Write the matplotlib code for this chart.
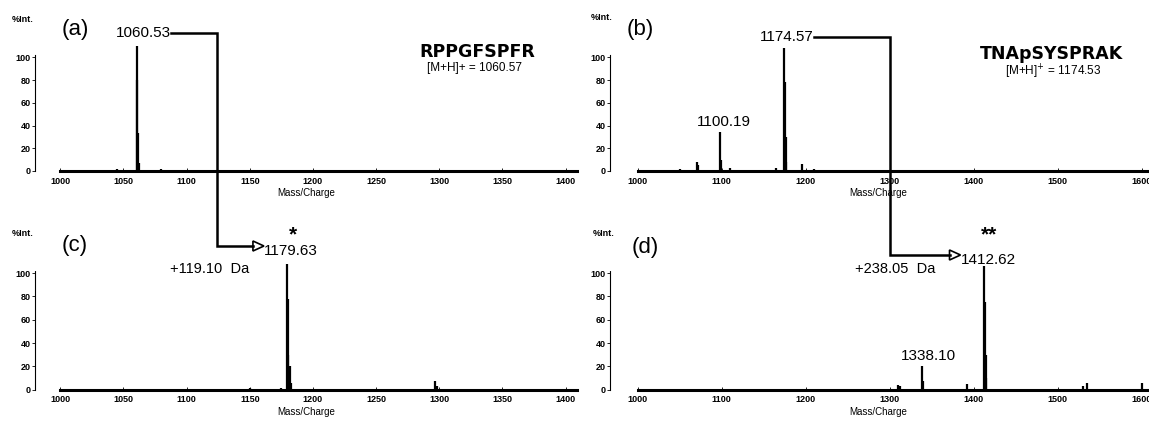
import matplotlib
matplotlib.use('Agg')
import matplotlib.pyplot as plt
from matplotlib.lines import Line2D
from matplotlib.patches import Polygon

plt.rcParams['font.family'] = ['Liberation Sans', 'DejaVu Sans']

W, H = 1149, 421

# --- spectra (m/z, % intensity) ---
a_mz = [1045.0, 1060.5, 1060.9, 1061.5, 1062.5, 1080.0]
a_int = [2, 110, 80, 33, 7, 1.5]

b_mz = [1050.0, 1070.0, 1071.5, 1098.2, 1099.0, 1110.0, 1165.0, 1174.5, 1175.0, 1176.0, 1177.0, 1195.0, 1210.0]
b_int = [2, 8, 5, 34, 10, 3, 3, 108, 78, 30, 8, 6, 2]

c_mz = [1150.0, 1175.0, 1179.6, 1180.0, 1180.6, 1181.5, 1182.5, 1297.0, 1298.5]
c_int = [1.5, 2, 108, 78, 30, 20, 6, 8, 3]

d_mz = [1310.0, 1312.0, 1338.1, 1339.0, 1392.0, 1412.6, 1413.2, 1414.0, 1415.0, 1530.0, 1535.0, 1600.0]
d_int = [4, 3, 20, 8, 5, 106, 75, 30, 10, 3, 6, 6]

y_ticks = [0, 20, 40, 60, 80, 100]
ticks_ac = [1000, 1050, 1100, 1150, 1200, 1250, 1300, 1350, 1400]
ticks_bd = [1000, 1100, 1200, 1300, 1400, 1500, 1600]

fig = plt.figure(figsize=(W / 100, H / 100), dpi=100)


def frac(x, y):
    # pixel (x from left, y from top) -> figure fraction
    return x / W, 1 - y / H


def make_ax(left, right, top, bottom, xlim, xticks, mz, inten):
    ax = fig.add_axes([left / W, 1 - bottom / H, (right - left) / W, (bottom - top) / H])
    ax.set_xlim(*xlim)
    ax.set_ylim(-4.4, 124)
    ax.vlines(mz, 0, inten, color='black', lw=1.6)
    for s in ['top', 'right']:
        ax.spines[s].set_visible(False)
    ax.spines['left'].set_linestyle((0, (1, 1)))
    ax.spines['left'].set_linewidth(0.8)
    ax.spines['left'].set_bounds(0, 102)
    ax.spines['bottom'].set_position(('data', 0))
    ax.spines['bottom'].set_linewidth(2.2)
    ax.spines['bottom'].set_bounds(xticks[0], xlim[1])
    ax.set_yticks(y_ticks)
    ax.set_xticks(xticks)
    ax.tick_params(axis='y', length=2, width=0.6, pad=1, labelsize=6.5)
    ax.tick_params(axis='x', length=2, width=0.6, direction='in', pad=4, labelsize=6.5)
    for lab in ax.get_xticklabels() + ax.get_yticklabels():
        lab.set_fontweight('bold')
    ax.set_xlabel('Mass/Charge', fontsize=7, labelpad=2)
    ax.set_facecolor('none')
    return ax


ax_a = make_ax(35, 577, 30, 176, (980, 1409), ticks_ac, a_mz, a_int)
ax_b = make_ax(610, 1147, 30, 176, (967, 1606), ticks_bd, b_mz, b_int)
ax_c = make_ax(35, 577, 245, 395, (980, 1409), ticks_ac, c_mz, c_int)
ax_d = make_ax(610, 1147, 245, 395, (967, 1606), ticks_bd, d_mz, d_int)

# panel letters and %Int.
for x, y, t in [(75, 30, '(a)'), (640, 30, '(b)'), (75, 246, '(c)'), (645, 248, '(d)')]:
    fig.text(*frac(x, y), t, fontsize=16, ha='center', va='center')
for x, y in [(23, 19), (602, 18), (23, 234), (604, 234)]:
    fig.text(*frac(x, y), '%Int.', fontsize=6.5, fontweight='bold', ha='center', va='center')

# peptide names
fig.text(*frac(477, 52), 'RPPGFSPFR', family='DejaVu Sans', fontweight='bold', fontsize=12.5,
         ha='center', va='center')
fig.text(*frac(475, 68), '[M+H]+ = 1060.57', fontsize=8.5, ha='center', va='center')
fig.text(*frac(1051, 54), 'TNApSYSPRAK', family='DejaVu Sans', fontweight='bold', fontsize=12.5,
         ha='center', va='center')
fig.text(*frac(1053, 72), '[M+H]$^{+}$ = 1174.53', fontsize=8.5, ha='center', va='center')


def dx(ax, xdata):
    return ax.transData.transform((xdata, 0))[0]


def connector(ax_top, ax_bot, x_start, x_turn, y_top, y_bot, x_tip, top_label, bot_label):
    xs = [dx(ax_top, x_start), dx(ax_top, x_turn), dx(ax_top, x_turn), dx(ax_bot, x_tip)]
    ys = [y_top, y_top, y_bot, y_bot]
    fig.add_artist(Line2D([x / W for x in xs], [1 - y / H for y in ys], transform=fig.transFigure,
                          color='black', lw=1.8, solid_joinstyle='miter'))
    tip = xs[-1]
    tri = [frac(tip, y_bot - 5), frac(tip, y_bot + 5), frac(tip + 11, y_bot)]
    fig.add_artist(Polygon(tri, closed=True, transform=fig.transFigure, facecolor='white',
                           edgecolor='black', lw=1.2))
    fig.text(*frac(xs[0], y_top), top_label, fontsize=11, ha='right', va='center')
    fig.text(*frac(tip + 11, y_bot + 5), bot_label, fontsize=11, ha='left', va='center')


connector(ax_a, ax_c, 1088, 1124, 33, 246, 1152.5, '1060.53', '1179.63')
connector(ax_b, ax_d, 1209.5, 1300, 37, 255, 1371, '1174.57', '1412.62')

# mass shifts and stars
fig.text(dx(ax_c, 1118) / W, 1 - 269 / H, '+119.10  Da', fontsize=10.5, ha='center', va='center')
fig.text(dx(ax_d, 1306) / W, 1 - 269 / H, '+238.05  Da', fontsize=10.5, ha='center', va='center')
fig.text(dx(ax_c, 1184) / W, 1 - 235 / H, '*', fontsize=15, fontweight='bold', ha='center', va='center')
fig.text(dx(ax_d, 1418) / W, 1 - 235 / H, '**', fontsize=15, fontweight='bold', ha='center', va='center')

# minor peak labels
ax_b.text(1102, 37, '1100.19', fontsize=11, ha='center', va='bottom')
ax_d.text(1346, 23, '1338.10', fontsize=11, ha='center', va='bottom')

fig.savefig('out.png', dpi=100, facecolor='white')
